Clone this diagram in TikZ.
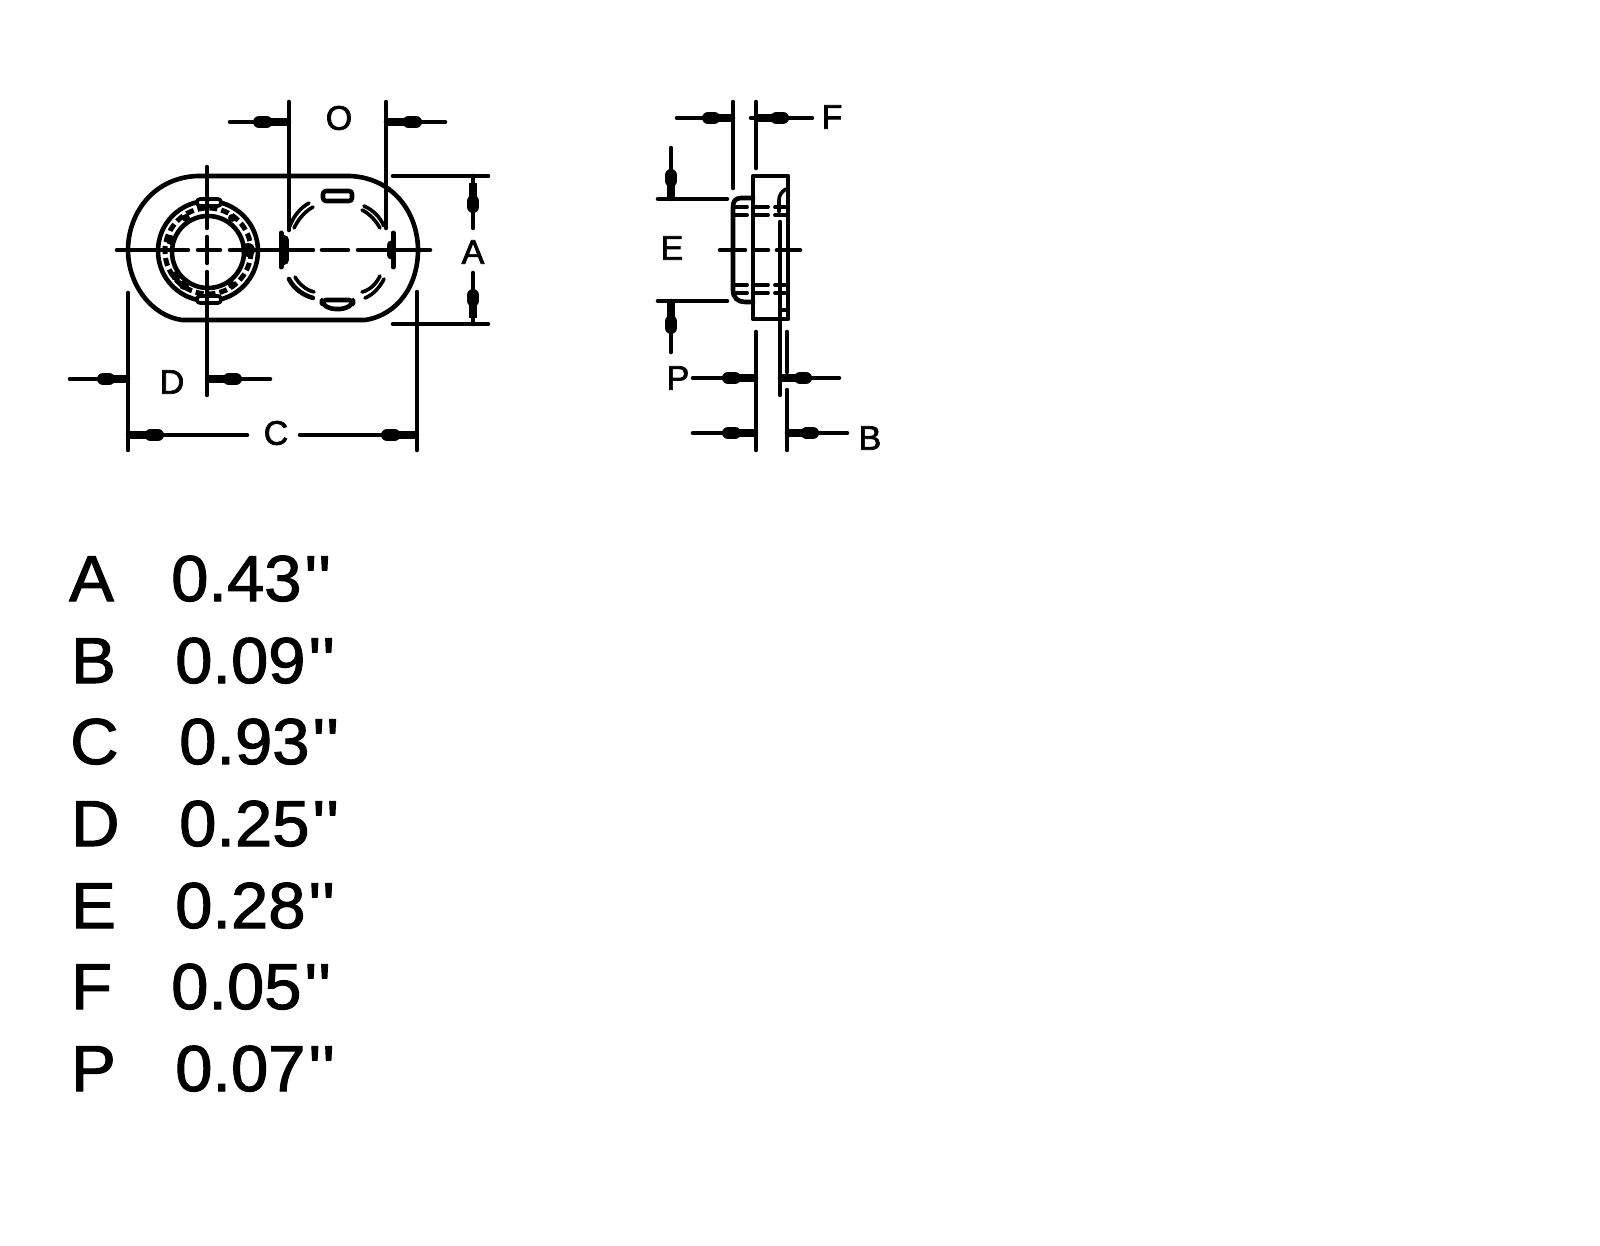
\documentclass[tikz,border=0pt]{standalone}
\usepackage{fontspec}
\setmainfont{Liberation Sans}
\newfontfamily\lblfont[FakeBold=2]{Liberation Sans}
\newfontfamily\tabfont[FakeBold=1.6,FakeStretch=1.03]{Liberation Sans}
\usetikzlibrary{calc}
\newcommand{\dimtip}[2]{%
  \draw[tipbody] (#1) -- (#2);
  \draw[tipknob] ($(#1)!0.75!(#2)$) -- (#2);}
\newcommand{\qq}{\kern3pt\char"27\kern1pt\char"27}
\tikzset{
  x=1pt,y=-1pt,
  ln/.style={line width=4.6pt,line cap=round,line join=round,black},
  thinln/.style={line width=3.6pt,line cap=round,line join=round,black},
  tipbody/.style={line width=8pt,line cap=butt,black},
  tipknob/.style={line width=12pt,line cap=round,black},
  lbl/.style={font=\lblfont\fontsize{34}{34}\selectfont,inner sep=0pt,text=black},
  letter/.style={anchor=base west,font=\tabfont\fontsize{65}{65}\selectfont,inner sep=0pt,text=black},
  val/.style={anchor=base west,font=\tabfont\fontsize{65}{65}\selectfont,inner sep=0pt,text=black},
  hidden/.style={line width=3.8pt,line cap=round,black},
}
\begin{document}
\begin{tikzpicture}
\useasboundingbox[fill=white] (0,0) rectangle (1600,1246);

% ---------- front view ----------
\draw[ln] (197,176) -- (350,176)
  .. controls (395,178) and (418,215) .. (418,250)
  .. controls (418,285) and (398,315) .. (365,320)
  -- (182,320)
  .. controls (152,316) and (128,285) .. (128,250)
  .. controls (128,215) and (152,178) .. (197,176) -- cycle;

% left bushing
\draw[ln] (208,251) circle[radius=50];
\draw[ln] (208,252) circle[radius=36];
\draw[line width=5pt,dash pattern=on 8pt off 4pt] (208,251) circle[radius=43];
\draw[thinln,fill=white,rounded corners=3pt] (197,199) rectangle (221,206);
\draw[thinln,fill=white,rounded corners=3pt] (197,296) rectangle (221,303);
\fill (248,250) circle[radius=7];
\fill (171,240) circle[radius=5];
\fill (176,276) circle[radius=5];
\fill (184,285) circle[radius=5];
\fill (232,285) circle[radius=4];
\fill (232,218) circle[radius=4];
\fill (186,218) circle[radius=4];

% right hidden circle
\draw[ln,rounded corners=3pt] (323,191) rectangle (352,201);
\draw[ln,rounded corners=4pt] (322,300) -- (353,300) -- (353,304) -- (344,309) -- (331,309) -- (322,304) -- cycle;
\draw[thinln] (290,226) .. controls (293,217) and (300,208) .. (309,203);
\draw[thinln] (294,228) .. controls (298,220) and (304,212) .. (313,207);
\draw[thinln] (384,226) .. controls (380,217) and (373,210) .. (364,206);
\draw[thinln] (380,228) .. controls (376,221) and (370,214) .. (362,210);
\draw[ln] (289,279) .. controls (294,289) and (303,295) .. (313,298);
\draw[thinln] (295,277) .. controls (299,284) and (306,290) .. (314,292);
\draw[thinln] (384,279) .. controls (380,287) and (373,295) .. (365,298);
\draw[thinln] (380,276) .. controls (376,284) and (370,290) .. (362,292);

% centre lines
\draw[ln] (117,250) -- (188,250);
\draw[ln] (198,250) -- (220,250);
\draw[ln] (230,250) -- (313,250);
\draw[ln] (322,250) -- (348,250);
\draw[ln] (358,250) -- (430,250);
\draw[ln] (207,167) -- (207,228);
\draw[ln] (207,237) -- (207,263);
\draw[ln] (207,272) -- (207,395);
\draw[line width=5pt,line cap=round] (281,233) -- (281,267);
\draw[line width=10pt,line cap=round] (284,240) -- (284,260);
\draw[line width=5pt,line cap=round] (393,233) -- (393,267);
\draw[line width=9pt,line cap=round] (391,245) -- (391,255);

% O dimension
\draw[ln] (289,102) -- (289,230);
\draw[ln] (386,102) -- (386,228);
\draw[ln] (230,122) -- (289,122);
\draw[ln] (386,122) -- (445,122);
\dimtip{289,122}{259,122}
\dimtip{386,122}{416,122}
\node[lbl] (labelO) at (339,118) {O};

% A dimension
\draw[ln] (393,176) -- (488,176);
\draw[ln] (393,324) -- (488,324);
\draw[ln] (473,176) -- (473,228);
\draw[ln] (473,273) -- (473,324);
\dimtip{473,183}{473,207}
\dimtip{473,318}{473,295}
\node[lbl] (labelA) at (473,252) {A};

% D dimension
\draw[ln] (128,293) -- (128,450);
\draw[ln] (70,379) -- (128,379);
\draw[ln] (207,379) -- (270,379);
\dimtip{128,379}{103,379}
\dimtip{207,379}{236,379}
\node[lbl] (labelD) at (172,382) {D};

% C dimension
\draw[ln] (417,292) -- (417,450);
\draw[ln] (128,435) -- (247,435);
\draw[ln] (300,435) -- (417,435);
\dimtip{128,435}{158,435}
\dimtip{417,435}{387,435}
\node[lbl] (labelC) at (276,433) {C};

% ---------- side view ----------
\draw[ln] (753,176) rectangle (788,319);
\draw[ln] (753,198) -- (741,198) .. controls (735,198) and (733,202) .. (733,207)
  -- (733,290) .. controls (733,298) and (738,302) .. (745,302) -- (753,302);
\draw[thinln] (786,189) .. controls (781,192) and (779,196) .. (779,200) -- (779,212);
\draw[ln] (780,222) -- (780,395);
\draw[thinln] (781,310) -- (788,310);

% hidden lines
\foreach \yy in {207,215,285,293}{
  \draw[hidden] (735,\yy) -- (747,\yy);
  \draw[hidden] (755,\yy) -- (768,\yy);
  \draw[hidden] (775,\yy) -- (787,\yy);
}
\draw[ln] (720,250) -- (745,250);
\draw[ln] (755,250) -- (768,250);
\draw[ln] (777,250) -- (800,250);

% F dimension
\draw[ln] (733,102) -- (733,188);
\draw[ln] (756,102) -- (756,168);
\draw[ln] (677,118) -- (733,118);
\draw[ln] (751,118) -- (812,118);
\dimtip{733,118}{708,118}
\dimtip{756,118}{783,118}
\node[lbl] (labelF) at (832,117) {F};

% E dimension
\draw[ln] (658,199) -- (727,199);
\draw[ln] (658,301) -- (727,301);
\draw[ln] (671,148) -- (671,199);
\draw[ln] (671,301) -- (671,352);
\dimtip{671,199}{671,175}
\dimtip{671,301}{671,328}
\node[lbl] (labelE) at (672,248) {E};

% P and B dimensions
\draw[ln] (756,332) -- (756,450);
\draw[ln] (787,332) -- (787,372);
\draw[ln] (787,390) -- (787,450);
\draw[ln] (693,378) -- (756,378);
\draw[ln] (780,378) -- (839,378);
\draw[ln] (693,433) -- (756,433);
\draw[ln] (787,433) -- (847,433);
\dimtip{756,378}{728,378}
\dimtip{782,378}{806,378}
\dimtip{756,433}{728,433}
\dimtip{787,433}{813,433}
\node[lbl] (labelP) at (678,378) {P};
\node[lbl] (labelB) at (870,438) {B};

% ---------- table ----------
\node[letter] (ta) at (69,601) {A};
\node[val] (va) at (171,601) {0.43\qq};
\node[letter] (tb) at (71,683) {B};
\node[val] (vb) at (175,683) {0.09\qq};
\node[letter] (tc) at (70,764) {C};
\node[val] (vc) at (179,764) {0.93\qq};
\node[letter] (td) at (71,846) {D};
\node[val] (vd) at (179,846) {0.25\qq};
\node[letter] (te) at (71,928) {E};
\node[val] (ve) at (175,928) {0.28\qq};
\node[letter] (tf) at (71,1009) {F};
\node[val] (vf) at (171,1009) {0.05\qq};
\node[letter] (tp) at (71,1091) {P};
\node[val] (vp) at (175,1091) {0.07\qq};
\end{tikzpicture}
\end{document}
